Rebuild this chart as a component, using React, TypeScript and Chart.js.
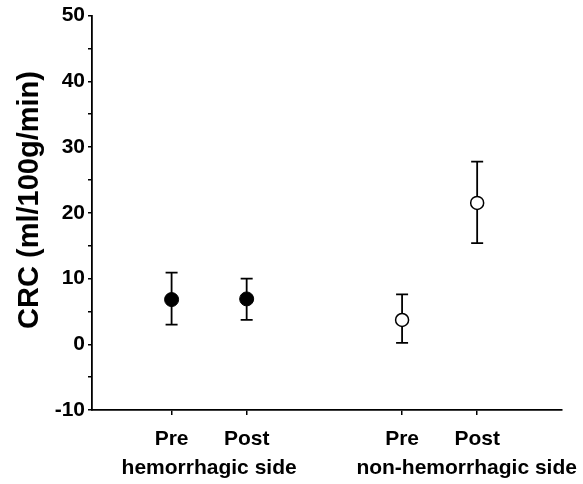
import React, { useEffect, useRef } from "react";
import { Chart, registerables } from "chart.js";
Chart.register(...registerables);

const conditions = ["Pre", "Post", "Pre", "Post"];
const xPositions = [1, 2, 4.07, 5.07];
const groupLabels = ["hemorrhagic side", "non-hemorrhagic side"];
const groupPositions = [1.5, 4.93];
const hemMean = [6.8, 6.9];
const hemUpper = [10.9, 10.0];
const hemLower = [3.0, 3.7];
const nonHemMean = [3.7, 21.5];
const nonHemUpper = [7.6, 27.8];
const nonHemLower = [0.2, 15.4];
const yTitle = "CRC (ml/100g/min)";

const FONT = "'Liberation Sans', Arial, Helvetica, sans-serif";

export default function App() {
  const ref = useRef<HTMLCanvasElement>(null);
  useEffect(() => {
    document.body.style.margin = "0";
    const errorBars = {
      id: "errorBars",
      beforeDatasetsDraw(chart: any) {
        const ctx = chart.ctx;
        const ys = chart.scales.y;
        const xs = chart.scales.x;
        ctx.save();
        ctx.strokeStyle = "#000";
        ctx.lineWidth = 1.8;
        chart.data.datasets.forEach((ds: any) => {
          ds.data.forEach((p: any, i: number) => {
            const x = xs.getPixelForValue(p.x);
            const yu = ys.getPixelForValue(ds.upper[i]);
            const yl = ys.getPixelForValue(ds.lower[i]);
            const cap = 6;
            ctx.beginPath();
            ctx.moveTo(x, yu);
            ctx.lineTo(x, yl);
            ctx.moveTo(x - cap, yu);
            ctx.lineTo(x + cap, yu);
            ctx.moveTo(x - cap, yl);
            ctx.lineTo(x + cap, yl);
            ctx.stroke();
          });
        });
        ctx.restore();
      },
    };
    const yTitlePlugin = {
      id: "yTitlePlugin",
      afterDraw(chart: any) {
        const ctx = chart.ctx;
        ctx.save();
        ctx.translate(30, 200);
        ctx.rotate(-Math.PI / 2);
        ctx.font = `bold 29px ${FONT}`;
        ctx.fillStyle = "#000";
        ctx.textAlign = "center";
        ctx.textBaseline = "middle";
        ctx.fillText(yTitle, 0, 0);
        ctx.restore();
      },
    };
    const chart = new Chart(ref.current as HTMLCanvasElement, {
      type: "scatter",
      data: {
        datasets: [
          {
            label: groupLabels[0],
            data: hemMean.map((y, i) => ({ x: xPositions[i], y })),
            pointRadius: 7,
            pointBackgroundColor: "#000",
            pointBorderColor: "#000",
            pointBorderWidth: 1,
            upper: hemUpper,
            lower: hemLower,
          } as any,
          {
            label: groupLabels[1],
            data: nonHemMean.map((y, i) => ({ x: xPositions[i + 2], y })),
            pointRadius: 6.5,
            pointBackgroundColor: "#fff",
            pointBorderColor: "#000",
            pointBorderWidth: 1.5,
            upper: nonHemUpper,
            lower: nonHemLower,
          } as any,
        ],
      },
      options: {
        animation: false,
        responsive: false,
        layout: { padding: { top: 13, right: 21, left: 0, bottom: 0 } },
        plugins: { legend: { display: false }, tooltip: { enabled: false } },
        scales: {
          y: {
            min: -10,
            max: 50,
            afterFit: (s: any) => { s.width = 92; },
            border: { display: true, color: "#000", width: 1.8 },
            grid: { drawOnChartArea: false, drawTicks: true, tickLength: 4, color: "#000", lineWidth: 1.5 },
            ticks: {
              stepSize: 5,
              padding: 3,
              color: "#000",
              font: { family: FONT, size: 21, weight: "bold" },
              callback: (v: any) => (Number(v) % 10 === 0 ? String(v) : ""),
            },
          },
          x: {
            type: "linear",
            min: -0.06,
            max: 6.2,
            weight: 0,
            afterFit: (s: any) => { s.height = 45; },
            afterBuildTicks: (s: any) => { s.ticks = xPositions.map((v) => ({ value: v })); },
            border: { display: true, color: "#000", width: 1.8 },
            grid: { drawOnChartArea: false, drawTicks: true, tickLength: 5, color: "#000", lineWidth: 1.5 },
            ticks: {
              autoSkip: false,
              maxRotation: 0,
              padding: 12,
              color: "#000",
              font: { family: FONT, size: 21, weight: "bold" },
              callback: (_v: any, i: number) => conditions[i],
            },
          },
          x2: {
            type: "linear",
            position: "bottom",
            min: -0.06,
            max: 6.2,
            weight: 1,
            afterFit: (s: any) => { s.height = 29; },
            afterBuildTicks: (s: any) => { s.ticks = groupPositions.map((v) => ({ value: v })); },
            border: { display: false },
            grid: { display: false, drawTicks: false },
            ticks: {
              autoSkip: false,
              maxRotation: 0,
              padding: 1,
              color: "#000",
              font: { family: FONT, size: 21, weight: "bold" },
              callback: (_v: any, i: number) => groupLabels[i],
            },
          },
        },
      } as any,
      plugins: [errorBars, yTitlePlugin],
    });
    return () => chart.destroy();
  }, []);
  return (
    <div style={{ width: 583, height: 484 }}>
      <canvas ref={ref} width={583} height={484} />
    </div>
  );
}
